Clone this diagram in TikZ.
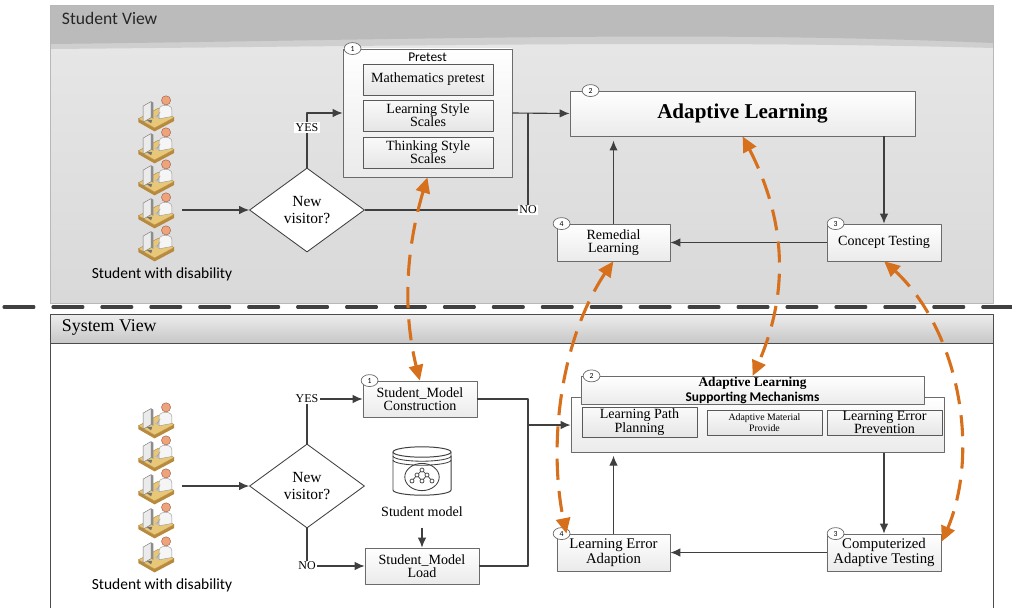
\documentclass[tikz,border=0pt]{standalone}
\usepackage{fontspec}
\setmainfont{Liberation Serif}
\setsansfont{Carlito}
\usetikzlibrary{arrows.meta,shapes.geometric,bending}
\definecolor{ink}{HTML}{3F3F3F}
\definecolor{edge}{HTML}{6B6B6B}
\definecolor{orng}{HTML}{D7701D}
\definecolor{band}{HTML}{BBBBBB}
\definecolor{desk}{HTML}{E8C878}
\definecolor{deskdark}{HTML}{B88A3E}
\definecolor{skin}{HTML}{F0A27A}
\tikzset{
  every picture/.style={line join=round, >={Latex[length=7pt,width=6pt]}},
  flow/.style={draw=ink, line width=0.8pt},
  box/.style={draw=edge, line width=0.6pt, top color=white, bottom color=black!8, align=center, inner sep=1pt, font=\fontsize{10}{9.5}\selectfont},
  subbox/.style={box, draw=black!65, top color=black!2, bottom color=black!10},
  badge/.style={ellipse, draw=edge, fill=white, line width=0.5pt, inner sep=0pt, minimum width=12pt, minimum height=8.5pt, font=\sffamily\fontsize{5.5}{5.5}\selectfont},
  choice/.style={diamond, draw=ink, fill=white, line width=0.6pt, inner sep=0pt, align=center, minimum width=2.875cm, minimum height=2.1cm, font=\fontsize{11}{12}\selectfont},
  tag/.style={fill=white, inner sep=1pt, font=\fontsize{8.5}{8.5}\selectfont},
  link/.style={draw=orng, line width=2.2pt, dash pattern=on 15pt off 8pt, {Triangle[length=11pt,width=10pt,bend]}-{Triangle[length=11pt,width=10pt,bend]}},
  learner/.pic={
    \fill[deskdark] (-17,5) -- (-3,13) -- (14,4) -- (14,7) -- (-3,16) -- (-17,8) -- cycle;
    \filldraw[fill=desk, draw=deskdark, line width=0.3pt] (-17,5) -- (-3,13) -- (14,4) -- (0,-4) -- cycle;
    \fill[black!25] (-3,3) -- (3,0) -- (6,1.5) -- (0,4.5) -- cycle;
    \fill[black!55] (-10,6) -- (-6,9) -- (-5,6) -- cycle;
    \filldraw[fill=black!8, draw=black!55, line width=0.3pt] (-13,-6) -- (-6,-10) -- (-6,4) -- (-13,8) -- cycle;
    \fill[black!45] (-6,-10) -- (-4,-9) -- (-4,5) -- (-6,4) -- cycle;
    \filldraw[fill=black!4, draw=black!40, line width=0.3pt] (1,5) -- (1,-3) .. controls (1,-8) and (12,-8) .. (12,-3) -- (12,3) -- cycle;
    \draw[black!40, line width=0.3pt] (2,-1) -- (-1,3);
    \filldraw[fill=skin, draw=skin!60!black, line width=0.3pt] (7,-11) circle[radius=0.1cm];
    \coordinate (-out) at (21,0);
  },
}

\begin{document}
\begin{tikzpicture}[x=0.025cm, y=-0.025cm]
\useasboundingbox (0,0) rectangle (1012,608);
% student view
\shade[top color=black!9, bottom color=black!15] (50,5) rectangle (993,303);
\fill[black!19] (50,5) -- (993,5) -- (993,48) .. controls (700,40) and (400,46) .. (50,49) -- cycle;
\fill[band] (50,5) -- (993,5) -- (993,43) .. controls (700,30) and (400,40) .. (50,44) -- cycle;
\draw[black!28, line width=0.6pt] (50,5) rectangle (993,303);
\node[anchor=west, font=\sffamily\fontsize{12.5}{12.5}\selectfont, text=black!85] (svh) at (57,18) {Student View};
% system view
\fill[white] (50,314) rectangle (993,608);
\shade[top color=black!7, bottom color=black!22] (50,314) rectangle (993,343);
\draw[black!70, line width=0.7pt] (50,608) -- (50,314) -- (993,314) -- (993,608);
\draw[black!70, line width=0.7pt] (50,343) -- (993,343);
\node[anchor=west, font=\fontsize{12.7}{12.7}\selectfont] (syh) at (57,328) {System View};
\draw[black!75, line width=2.2pt, line cap=round, dash pattern=on 21.3pt off 13.5pt] (4,307) -- (1012,307);

\pic[scale=1.15] (s1) at (158,113) {learner};
\pic[scale=1.15] (s2) at (158,145) {learner};
\pic[scale=1.15] (s3) at (158,177) {learner};
\pic[scale=1.15] (s4) at (158,210) {learner};
\pic[scale=1.15] (s5) at (158,243) {learner};
\node[font=\sffamily\fontsize{11}{11}\selectfont] (swd1) at (162,274) {Student with disability};

\node[choice] (dv1) at (307,210) {New\\visitor?};
\node[box, minimum width=4.225cm, minimum height=3.2cm] (pre) at (427.5,113) {};
\node[font=\sffamily\fontsize{9.5}{9.5}\selectfont] (pret) at (427.5,57) {Pretest};
\node[subbox, minimum width=3.25cm, minimum height=0.775cm] (mp) at (428,79.5) {Mathematics pretest};
\node[subbox, minimum width=3.25cm, minimum height=0.775cm] (lss) at (428,115.5) {Learning Style\\Scales};
\node[subbox, minimum width=3.25cm, minimum height=0.775cm] (tss) at (428,152.5) {Thinking Style\\Scales};
\node[box, minimum width=8.625cm, minimum height=1.125cm, font=\bfseries\fontsize{15}{15}\selectfont] (al) at (742.5,113.5) {Adaptive Learning};
\node[box, minimum width=2.85cm, minimum height=0.925cm] (ct) at (884,242.5) {Concept Testing};
\node[box, minimum width=2.825cm, minimum height=0.925cm] (rem) at (613.5,242.5) {Remedial\\Learning};
\node[badge] (n1) at ([xshift=0.25cm]pre.north west) {1};
\node[badge] (n2) at ([xshift=0.525cm]al.north west) {2};
\node[badge] (n3) at ([xshift=0.225cm]ct.north west) {3};
\node[badge] (n4) at ([xshift=0.125cm]rem.north west) {4};
\coordinate (j1) at (528,113);
\draw[flow,->] (s4-out) -- (dv1.west);
\draw[flow,->] (dv1.north) |- node[tag, pos=0.37]{YES} (pre.west);
\draw[flow] (dv1.east) -| node[tag]{NO} (j1);
\draw[flow,->] (pre.east) -- (al.west);
\draw[flow,->] (al.south -| ct.north) -- (ct.north);
\draw[flow,->] (ct.west) -- (rem.east);
\draw[flow,->,shorten >=3pt] (rem.north) -- (rem.north |- al.south);

\pic[scale=1.15] (s6) at (158,420) {learner};
\pic[scale=1.15] (s7) at (158,453) {learner};
\pic[scale=1.15] (s8) at (158,486) {learner};
\pic[scale=1.15] (s9) at (158,520) {learner};
\pic[scale=1.15] (s10) at (158,554) {learner};
\node[font=\sffamily\fontsize{11}{11}\selectfont] (swd2) at (162,585) {Student with disability};

\node[choice] (dv2) at (307,486) {New\\visitor?};
\node[box, minimum width=2.85cm, minimum height=0.9cm] (smc) at (420,399) {Student\_Model\\Construction};
\node[box, minimum width=2.85cm, minimum height=0.9cm] (sml) at (422,566) {Student\_Model\\Load};
\node[inner sep=0pt, minimum width=1.45cm, minimum height=1.175cm] (db) at (422,472) {};
\filldraw[fill=white, draw=ink, line width=0.7pt] (393,452) -- (393,490) arc[start angle=180, end angle=360, x radius=0.725cm, y radius=0.13cm] -- (451,452);
\draw[ink, line width=0.6pt] (393,456) arc[start angle=180, end angle=360, x radius=0.725cm, y radius=0.13cm];
\draw[ink, line width=0.6pt] (393,460) arc[start angle=180, end angle=360, x radius=0.725cm, y radius=0.13cm];
\filldraw[fill=white, draw=ink, line width=0.7pt] (422,452) ellipse[x radius=0.725cm, y radius=0.13cm];
\draw[ink, line width=0.6pt] (422,477) ellipse[x radius=0.43cm, y radius=0.34cm];
\draw[ink, line width=0.5pt] (422,470) -- (417,475) -- (412,481) (417,475) -- (422,481) (422,470) -- (427,475) -- (432,481) (427,475) -- (422,481);
\filldraw[fill=white, draw=ink, line width=0.5pt] (422,470) circle[radius=0.05cm] (417,475) circle[radius=0.05cm] (427,475) circle[radius=0.05cm] (412,481) circle[radius=0.05cm] (422,481) circle[radius=0.05cm] (432,481) circle[radius=0.05cm];
\node[font=\fontsize{10}{10}\selectfont] (dbl) at (422,512) {Student model};

\node[box, minimum width=9.325cm, minimum height=1.375cm] (asm) at (757.5,425) {};
\node[box, minimum width=8.575cm, minimum height=0.625cm, font=\fontsize{9.5}{10}\selectfont] (asmh) at (752.5,390.5) {\textbf{Adaptive Learning}\\\sffamily\bfseries Supporting Mechanisms};
\node[subbox, minimum width=2.875cm, minimum height=0.625cm, font=\fontsize{10}{9}\selectfont] (lpp) at (639.5,422.5) {Learning Path\\Planning};
\node[subbox, minimum width=2.875cm, minimum height=0.625cm, font=\fontsize{7}{7.5}\selectfont] (amp) at (764.5,422.5) {Adaptive Material\\Provide};
\node[subbox, minimum width=2.875cm, minimum height=0.625cm, font=\fontsize{10}{9}\selectfont] (lep) at (884.5,422.5) {Learning Error\\Prevention};
\node[box, minimum width=2.85cm, minimum height=0.925cm, font=\fontsize{10.5}{9.5}\selectfont] (cat) at (884,552.5) {Computerized\\Adaptive Testing};
\node[box, minimum width=2.825cm, minimum height=0.925cm, font=\fontsize{10.5}{9.5}\selectfont] (lea) at (613.5,552.5) {Learning Error\\Adaption};
\node[badge] (n5) at ([xshift=0.175cm]smc.north west) {1};
\node[badge] (n6) at ([xshift=0.275cm]asmh.north west) {2};
\node[badge] (n7) at ([xshift=0.225cm]cat.north west) {3};
\node[badge] (n8) at ([xshift=0.125cm]lea.north west) {4};
\coordinate (j2) at (528,425);
\draw[flow,->] (s8-out) -- (dv2.west);
\draw[flow,->] (dv2.north) |- node[tag]{YES} (smc.west);
\draw[flow,->] (dv2.south) |- node[tag]{NO} (sml.west);
\draw[flow] (smc.east) -| (j2) |- (sml.east);
\draw[flow,->] (j2) -- (asm.west);
\draw[flow,->,shorten <=4pt] (dbl.south) -- (sml.north);
\draw[flow,->] (asm.south -| cat.north) -- (cat.north);
\draw[flow,->] (cat.west) -- (lea.east);
\draw[flow,->,shorten >=2pt] (lea.north) -- (lea.north |- asm.south);

\draw[link] (pre.south) .. controls (400,260) and (405,330) .. (smc.north);
\draw[link] (al.south) .. controls (790,220) and (790,300) .. (asmh.north);
\draw[link] (rem.south) .. controls (560,330) and (545,450) .. ([xshift=0.25cm]lea.north west);
\draw[link] (ct.south) .. controls (960,320) and (985,460) .. ([yshift=-0.2cm]cat.north east);
\end{tikzpicture}
\end{document}
